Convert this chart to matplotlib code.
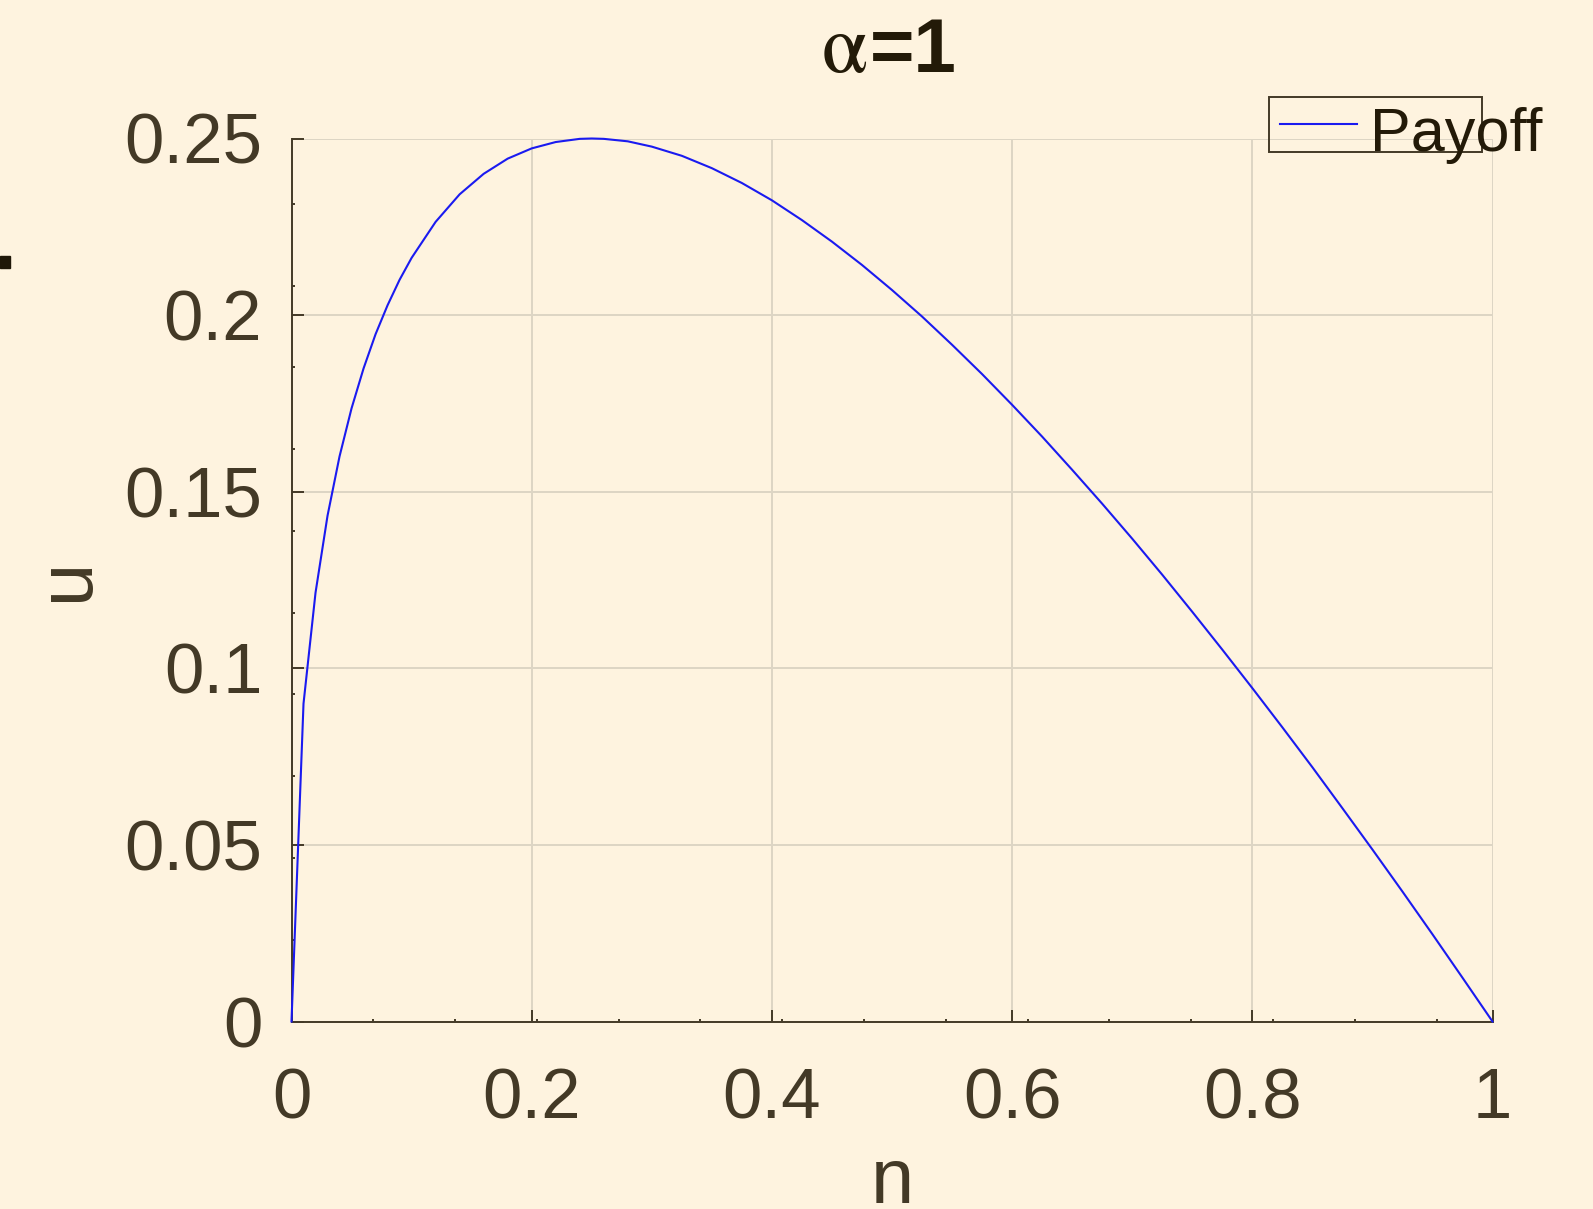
import matplotlib.pyplot as plt
from matplotlib.ticker import MultipleLocator
from matplotlib.patches import Rectangle
from matplotlib.lines import Line2D

# payoff curve
n_vals = [0, 0.01, 0.02, 0.03, 0.04, 0.05, 0.06, 0.07, 0.08, 0.09, 0.10,
          0.12, 0.14, 0.16, 0.18, 0.20, 0.22, 0.24, 0.25, 0.26, 0.28, 0.30,
          0.325, 0.35, 0.375, 0.40, 0.425, 0.45, 0.475, 0.50, 0.525, 0.55,
          0.575, 0.60, 0.625, 0.65, 0.675, 0.70, 0.725, 0.75, 0.775, 0.80,
          0.825, 0.85, 0.875, 0.90, 0.925, 0.95, 0.975, 1.0]
u_vals = [0, 0.0900, 0.1214, 0.1432, 0.1600, 0.1736, 0.1849, 0.1946, 0.2028, 0.2100, 0.2162,
          0.2264, 0.2342, 0.2400, 0.2443, 0.2472, 0.2490, 0.2499, 0.2500, 0.2499, 0.2492, 0.2477,
          0.2451, 0.2416, 0.2374, 0.2325, 0.2269, 0.2208, 0.2142, 0.2071, 0.1996, 0.1916,
          0.1833, 0.1746, 0.1656, 0.1562, 0.1466, 0.1367, 0.1265, 0.1160, 0.1053, 0.0944,
          0.0833, 0.0720, 0.0604, 0.0487, 0.0368, 0.0247, 0.0124, 0]

x_ticks = [0, 0.2, 0.4, 0.6, 0.8, 1]
x_labels = ['0', '0.2', '0.4', '0.6', '0.8', '1']
y_ticks = [0, 0.05, 0.1, 0.15, 0.2, 0.25]
y_labels = ['0', '0.05', '0.1', '0.15', '0.2', '0.25']

W, H = 1593, 1209
bg = '#fef3df'
ink = '#433926'
dark = '#231a08'
sans = 'Liberation Sans'


def fx(x):
    return x / W


def fy(y):
    return 1 - y / H


fig = plt.figure(figsize=(W / 100, H / 100), dpi=100, facecolor=bg)
ax = fig.add_axes([fx(291.5), fy(1021.5), fx(1492.5) - fx(291.5), fy(138.5) - fy(1021.5)])
ax.set_facecolor(bg)

ax.plot(n_vals, u_vals, color='#1a1af0', lw=1.5, clip_on=False, zorder=3)
ax.set_xlim(0, 1)
ax.set_ylim(0, 0.25)

ax.set_xticks(x_ticks)
ax.set_xticklabels(x_labels, fontfamily=sans)
ax.set_yticks(y_ticks)
ax.set_yticklabels(y_labels, fontfamily=sans)
ax.xaxis.set_minor_locator(MultipleLocator(0.0681))
ax.yaxis.set_minor_locator(MultipleLocator(0.02315))

ax.tick_params(which='major', direction='in', length=8.6, width=1.4,
               color=ink, labelcolor=ink, labelsize=51)
ax.tick_params(which='minor', direction='in', length=2, width=1.4, color=ink)
ax.tick_params(axis='x', which='major', pad=33)
ax.tick_params(axis='y', which='major', pad=21)

for s in ['top', 'right']:
    ax.spines[s].set_visible(False)
for s in ['left', 'bottom']:
    ax.spines[s].set_color(ink)
    ax.spines[s].set_linewidth(1.4)

ax.grid(True, which='major', color='#ddd5c4', lw=1.4)
ax.set_axisbelow(True)

# axis labels
fig.text(fx(892.5), fy(1182.5), 'n', ha='center', va='center',
         fontsize=56, color=ink, fontfamily=sans)
fig.text(fx(67.5), fy(579), 'u', ha='center', va='center', rotation=90,
         fontsize=56, color=ink, fontfamily=sans)

# title
fig.text(fx(822), fy(72), '\u03b1', ha='left', va='baseline',
         fontsize=60, color=dark, fontfamily='STIXGeneral')
fig.text(fx(870), fy(72), '=1', ha='left', va='baseline',
         fontsize=55, color=dark, fontfamily=sans, fontweight='bold')

# legend box (text overflows the box, as in the reference)
fig.patches.append(Rectangle((fx(1269), fy(152)), fx(1482) - fx(1269), fy(97) - fy(152),
                             transform=fig.transFigure, fill=False,
                             edgecolor=ink, lw=1.4))
fig.lines.append(Line2D([fx(1280), fx(1357)], [fy(124), fy(124)],
                        transform=fig.transFigure, color='#1a1af0', lw=1.5))
fig.text(fx(1370), fy(151), 'Payoff', ha='left', va='baseline',
         fontsize=44, color=dark, fontfamily=sans)

# small dark mark on the left edge
fig.patches.append(Rectangle((0, fy(268)), fx(9.6), fy(256) - fy(268),
                             transform=fig.transFigure, color='#1f1708'))

fig.savefig('out.png', dpi=100, facecolor=bg)
